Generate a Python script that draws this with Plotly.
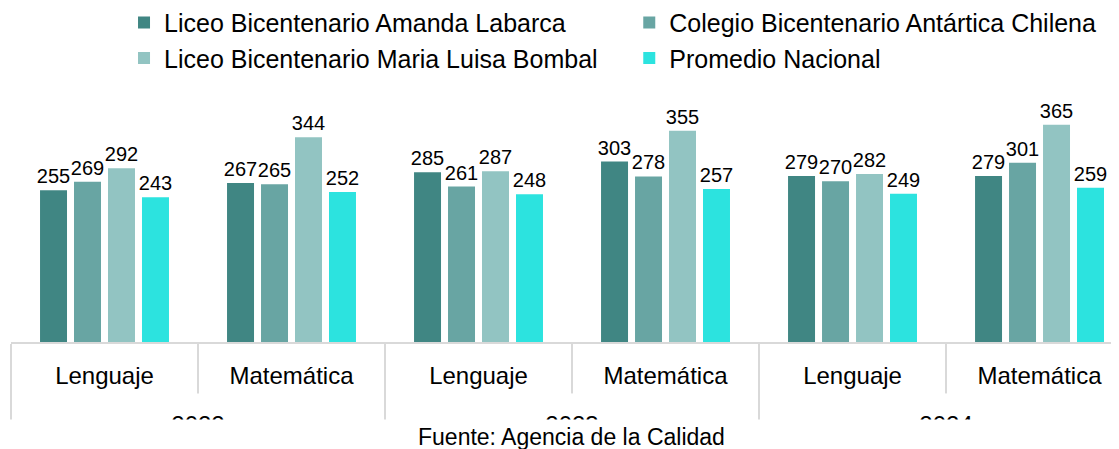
import plotly.graph_objects as go

# ---- data ----
years = ["2022", "2022", "2023", "2023", "2024", "2024"]
subjects = ["Lenguaje", "Matemática", "Lenguaje", "Matemática", "Lenguaje", "Matemática"]
series_names = [
    "Liceo Bicentenario Amanda Labarca",
    "Colegio Bicentenario Antártica Chilena",
    "Liceo Bicentenario Maria Luisa Bombal",
    "Promedio Nacional",
]
amanda_labarca = [255, 267, 285, 303, 279, 279]
antartica_chilena = [269, 265, 261, 278, 270, 301]
maria_luisa_bombal = [292, 344, 287, 355, 282, 365]
promedio_nacional = [243, 252, 248, 257, 249, 259]
source_note = "Fuente: Agencia de la Calidad"

series_values = [amanda_labarca, antartica_chilena, maria_luisa_bombal, promedio_nacional]
colors = ["#408683", "#68A5A3", "#92C4C2", "#2CE3DF"]
legend_ids = ["legend", "legend2", "legend", "legend2"]

FONT = "Liberation Sans, Arial, sans-serif"

# inner tick labels get an empty second line so the year row sits lower (as in the reference)
inner_labels = [s + "<br>\u00a0" for s in subjects]

fig = go.Figure()
for i, (name, vals, col) in enumerate(zip(series_names, series_values, colors)):
    fig.add_trace(go.Bar(
        x=[years, inner_labels], y=vals, name=name,
        legend=legend_ids[i], legendgroup=f"g{i}",
        marker=dict(color=col, line=dict(width=0)),
        text=[str(v) for v in vals], textposition="outside",
        textfont=dict(family=FONT, size=20, color="#000000"),
        cliponaxis=False, constraintext="none",
        hovertemplate="%{y}<extra>" + name + "</extra>",
    ))

grid = "#D9D9D9"
shapes = []
# short dividers between subjects inside each year
for i in range(len(years) - 1):
    if years[i] == years[i + 1]:
        shapes.append(dict(type="line", xref="x", yref="paper",
                           x0=i + 0.5, x1=i + 0.5, y0=0, y1=-0.154,
                           line=dict(color=grid, width=2), layer="above"))
# white cover clipping the year row (as in the reference)
shapes.append(dict(type="rect", xref="paper", yref="paper",
                   x0=-0.05, x1=1.05, y0=-0.232, y1=-0.6,
                   fillcolor="#FFFFFF", line=dict(width=0), layer="above"))

leg_common = dict(orientation="v", yanchor="top", xanchor="left",
                  font=dict(family=FONT, size=25, color="#000000"),
                  bgcolor="rgba(0,0,0,0)", itemwidth=30, tracegroupgap=6,
                  traceorder="normal")

fig.update_layout(
    width=1119, height=449, autosize=False,
    margin=dict(l=3, r=8, t=0, b=115, pad=0, autoexpand=False),
    paper_bgcolor="#FFFFFF", plot_bgcolor="#FFFFFF",
    font=dict(family=FONT, size=24, color="#000000"),
    barmode="group", bargap=0.273, bargroupgap=0.206,
    showlegend=True,
    legend=dict(x=0.102, y=1.025, **leg_common),
    legend2=dict(x=0.558, y=1.025, **leg_common),
    xaxis=dict(type="multicategory", range=[-0.5, 5.425],
               showline=True, linecolor=grid, linewidth=2,
               showdividers=True, dividercolor=grid, dividerwidth=2,
               showgrid=False, zeroline=False, ticks="",
               ticklabelstandoff=11,
               tickfont=dict(family=FONT, size=24, color="#000000")),
    yaxis=dict(visible=False, range=[0, 561], showgrid=False, zeroline=False),
    shapes=shapes,
    annotations=[dict(text=source_note, xref="paper", yref="paper",
                      x=0.506, y=-0.2845, xanchor="center", yanchor="middle",
                      showarrow=False,
                      font=dict(family=FONT, size=23, color="#000000"))],
)

fig.write_html("out.html")
